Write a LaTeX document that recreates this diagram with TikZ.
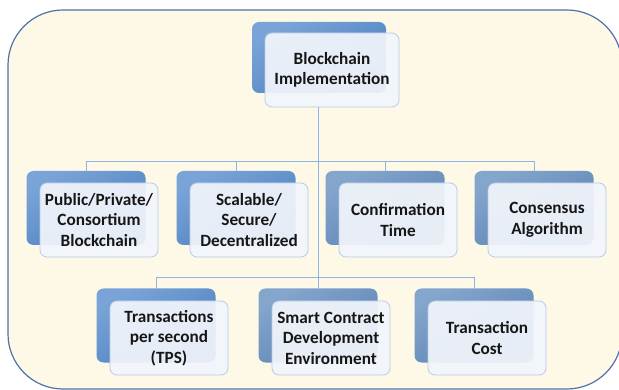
\documentclass[tikz,border=0pt]{standalone}
\usepackage{fontspec}
\setmainfont{Carlito}
\usetikzlibrary{positioning}
\definecolor{frameblue}{HTML}{4F72A8}
\definecolor{cream}{HTML}{FEF8E7}
\definecolor{linkblue}{HTML}{8EB4E3}
\definecolor{boxedge}{HTML}{B5CCE9}
\definecolor{boxfill}{HTML}{F2F5FB}
\definecolor{backtop}{HTML}{7AA4D7}
\definecolor{backbot}{HTML}{4A7EBE}
\definecolor{greytop}{HTML}{84A5CC}
\definecolor{greybot}{HTML}{5A82B3}
\definecolor{textdark}{HTML}{161616}
\tikzset{
frame/.style={draw=frameblue, line width=1.2pt, fill=cream, rounded corners=55pt},
back/.style={rectangle, rounded corners=7pt, inner sep=0pt, minimum width=119pt, minimum height=74pt,
  top color=backtop, bottom color=backbot, shading angle=30},
backgrey/.style={back, top color=greytop, bottom color=greybot, shading angle=30},
front/.style={rectangle, rounded corners=7pt, inner sep=0pt, minimum width=118pt, minimum height=74pt,
  draw=boxedge, line width=0.8pt, fill=boxfill, fill opacity=0.93, text opacity=1, text=textdark,
  align=center, font=\fontsize{17.2}{20.5}\selectfont\bfseries},
link/.style={draw=linkblue, line width=0.9pt},
}

\begin{document}
\begin{tikzpicture}[x=1pt, y=-1pt]
    \useasboundingbox (0,0) rectangle (619,390);
    \draw[frame] (8,10) rectangle (622,389);

    %top box
    \node[back, minimum width=134pt, minimum height=71pt] (b0) at (319,57.5) {};
    \node[front, minimum width=134pt] (f0) at (332,70) {Blockchain\\Implementation};

    %boxes in row 1
    \node[back]     (b1) at (86,208) {};
    \node[front]    (f1) at (99,220) {Public/Private/\\Consortium\\Blockchain};
    \node[back]     (b2) at (236,208) {};
    \node[front]    (f2) at (249,220) {Scalable/\\Secure/\\Decentralized};
    \node[backgrey] (b3) at (385,208) {};
    \node[front]    (f3) at (398,220) {Confirmation\\Time};
    \node[backgrey] (b4) at (534,208) {};
    \node[front]    (f4) at (547,220) {Consensus\\Algorithm};

    %boxes in row 2
    \node[back]     (b5) at (156,325.5) {};
    \node[front]    (f5) at (169,338) {Transactions\\per second\\(TPS)};
    \node[backgrey] (b6) at (318,325.5) {};
    \node[front]    (f6) at (331,338) {Smart Contract\\Development\\Environment};
    \node[backgrey] (b7) at (474,325.5) {};
    \node[front]    (f7) at (487,338) {Transaction\\Cost};

    %junctions of the trunk
    \coordinate (j1) at (318,161);
    \coordinate (j2) at (318,277);

    %trunk
    \draw[link] (f0.south -| j1)--(j2);

    %line y=161
    \draw[link] (b1.north)--(b1.north |- j1)--(b4.north |- j1)--(b4.north);
    \draw[link] (b2.north)--(b2.north |- j1);
    \draw[link] (b3.north)--(b3.north |- j1);

    %line y=277
    \draw[link] (b5.north)--(b5.north |- j2)--(b7.north |- j2)--(b7.north);
    \draw[link] (j2)--(b6.north);

\end{tikzpicture}
\end{document}
